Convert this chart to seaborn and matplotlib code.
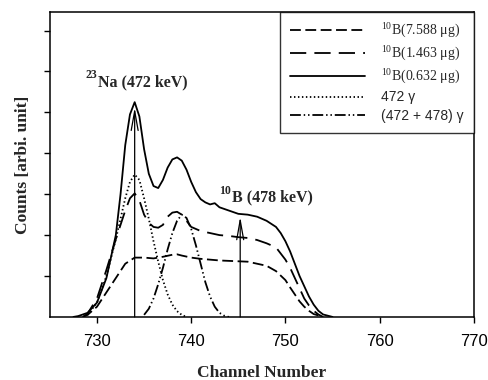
import numpy as np
import pandas as pd
import seaborn as sns
import matplotlib.pyplot as plt

# Channel positions and counts (arbitrary units, 1 unit = one y tick)
ch_solid = [727.5, 728, 729, 730, 731, 732, 732.5, 733, 733.5, 734, 734.5, 735, 735.5, 736,
            736.5, 737, 737.5, 738, 738.5, 739, 739.5, 740, 740.5, 741, 741.5, 742, 742.5,
            743, 744, 745, 746, 747, 748, 749, 749.5, 750, 750.5, 751, 751.5, 752, 752.5,
            753, 753.5, 754, 755]
b_0632 = [0.0, 0.02, 0.1, 0.35, 0.95, 2.0, 3.0, 4.2, 4.95, 5.25, 4.9, 4.1, 3.5, 3.2,
          3.15, 3.35, 3.65, 3.85, 3.9, 3.82, 3.6, 3.3, 3.05, 2.88, 2.8, 2.75, 2.78,
          2.68, 2.6, 2.52, 2.5, 2.45, 2.35, 2.2, 2.05, 1.85, 1.6, 1.3, 1.0, 0.75, 0.5,
          0.3, 0.15, 0.06, 0.0]

ch_long = [728.5, 729, 730, 731, 732, 733, 733.5, 734, 734.5, 735, 735.5, 736, 736.5, 737,
           737.5, 738, 738.5, 739, 739.5, 740, 741, 742, 743, 744, 745, 746, 747, 748,
           749, 749.5, 750, 750.5, 751, 751.5, 752, 752.5, 753, 753.5, 754]
b_1463 = [0.0, 0.08, 0.45, 1.15, 1.9, 2.6, 2.9, 3.02, 2.85, 2.5, 2.3, 2.2, 2.18, 2.25,
          2.45, 2.55, 2.57, 2.5, 2.35, 2.2, 2.1, 2.05, 2.0, 1.98, 1.95, 1.93, 1.88, 1.8,
          1.7, 1.55, 1.4, 1.2, 0.95, 0.7, 0.45, 0.28, 0.15, 0.06, 0.0]

ch_short = [728.5, 729, 730, 731, 732, 733, 734, 735, 736, 737, 738, 738.5, 739, 740, 741,
            742, 743, 744, 745, 746, 747, 748, 749, 750, 750.5, 751, 751.5, 752, 752.5,
            753, 754]
b_7588 = [0.0, 0.05, 0.25, 0.6, 0.95, 1.3, 1.45, 1.45, 1.43, 1.47, 1.52, 1.53, 1.5, 1.45,
          1.42, 1.4, 1.38, 1.37, 1.36, 1.35, 1.3, 1.25, 1.12, 0.9, 0.72, 0.55, 0.38, 0.25,
          0.15, 0.07, 0.0]

ch_472 = [729, 730, 731, 732, 733, 733.5, 734, 734.5, 735, 735.5, 736, 736.5, 737, 737.5,
          738, 738.5, 739, 739.5]
g_472 = [0.05, 0.35, 1.0, 1.9, 2.9, 3.3, 3.48, 3.35, 2.9, 2.4, 1.85, 1.35, 0.9, 0.55,
         0.3, 0.14, 0.05, 0.0]

ch_sum = [735, 735.5, 736, 736.5, 737, 737.5, 738, 738.5, 739, 739.5, 740, 740.5, 741,
          741.5, 742, 742.5, 743, 743.5, 744]
g_sum = [0.05, 0.2, 0.45, 0.8, 1.2, 1.65, 2.05, 2.35, 2.5, 2.42, 2.15, 1.75, 1.3,
         0.85, 0.5, 0.25, 0.1, 0.03, 0.0]

labels = [r"$^{10}$B(7.588 μg)", r"$^{10}$B(1.463 μg)", r"$^{10}$B(0.632 μg)",
          "472 γ", "(472 + 478) γ"]
x_ticks = [730, 740, 750, 760, 770]

sns.set_style("ticks")
plt.rcParams["font.family"] = ["Liberation Serif", "DejaVu Serif"]
plt.rcParams["mathtext.fontset"] = "custom"
plt.rcParams["mathtext.rm"] = "Liberation Serif"
plt.rcParams["mathtext.it"] = "Liberation Serif:italic"
plt.rcParams["mathtext.bf"] = "Liberation Serif:bold"

fig = plt.figure(figsize=(4.89, 3.8), dpi=100)
ax = fig.add_axes([0.102, 0.166, 0.867, 0.802])

series = [
    (ch_short, b_7588, (0, (6, 2.5))),
    (ch_long, b_1463, (0, (9, 4.5))),
    (ch_solid, b_0632, "-"),
    (ch_472, g_472, (0, (0.8, 1.4))),
    (ch_sum, g_sum, (0, (6, 1.6, 0.8, 1.6, 0.8, 1.6))),
]
for (xs, ys, ls), lab in zip(series, labels):
    df = pd.DataFrame({"channel": xs, "counts": ys})
    sns.lineplot(data=df, x="channel", y="counts", ax=ax, color="black",
                 linestyle=ls, linewidth=1.3, label=lab)

# arrows marking the two gamma lines
ax.annotate("", xy=(734, 5.12), xytext=(734, 0),
            arrowprops=dict(arrowstyle="->,head_length=1.4,head_width=0.25",
                            lw=0.9, color="black", shrinkA=0, shrinkB=0))
ax.annotate("", xy=(745.2, 2.45), xytext=(745.2, 0),
            arrowprops=dict(arrowstyle="->,head_length=1.4,head_width=0.25",
                            lw=0.9, color="black", shrinkA=0, shrinkB=0))

ax.text(728.8, 5.84, "23", fontsize=8.5, fontweight="bold", ha="left", va="baseline")
ax.text(730.15, 5.64, "Na (472 keV)", fontsize=11.5, fontweight="bold", ha="left", va="baseline")
ax.text(743.0, 3.01, "10", fontsize=8.5, fontweight="bold", ha="left", va="baseline")
ax.text(744.35, 2.82, "B (478 keV)", fontsize=11.5, fontweight="bold", ha="left", va="baseline")

ax.set_xlim(725, 770)
ax.set_ylim(0, 7.45)
ax.set_xticks(x_ticks)
ax.set_xticklabels([str(t) for t in x_ticks], family="Liberation Sans", fontsize=12)
ax.set_yticks([1, 2, 3, 4, 5, 6, 7])
ax.set_yticklabels([])
ax.tick_params(direction="out", length=4, width=1, colors="black")
ax.tick_params(axis="x", pad=8)
for sp in ax.spines.values():
    sp.set_visible(True)
    sp.set_linewidth(1.1)
    sp.set_color("black")

ax.set_xlabel("Channel Number", fontsize=12.5, fontweight="bold", labelpad=12)
ax.set_ylabel("Counts [arbi. unit]", fontsize=12.5, fontweight="bold", labelpad=6)

leg = ax.legend(loc="upper right", bbox_to_anchor=(1.0, 1.0), borderaxespad=0,
                fontsize=10, handlelength=5.4, handletextpad=1.2, labelspacing=0.33,
                frameon=True, fancybox=False, edgecolor="black", borderpad=0.7)
leg.get_frame().set_linewidth(1.0)
for t in leg.get_texts()[3:]:
    t.set_family("Liberation Sans")

fig.savefig("out.png", dpi=100)
